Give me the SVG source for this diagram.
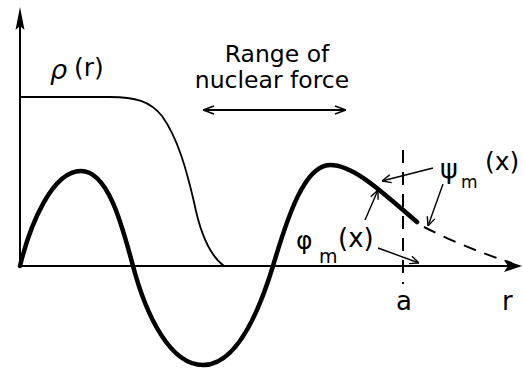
<svg xmlns="http://www.w3.org/2000/svg" width="523" height="368" viewBox="0 0 523 368">
<defs>
<style>
text{font-family:"DejaVu Sans","Liberation Sans",sans-serif;fill:#000}
.thin{fill:none;stroke:#000;stroke-width:1.8}
.axis{fill:none;stroke:#000;stroke-width:2}
.thick{fill:none;stroke:#000;stroke-width:4.5;stroke-linecap:round}
.dash{fill:none;stroke:#000;stroke-width:2;stroke-dasharray:13 9}
.ptr{fill:none;stroke:#000;stroke-width:1.4;marker-end:url(#open)}
</style>
<marker id="open" viewBox="0 0 10 10" refX="10" refY="5" markerWidth="10" markerHeight="10" markerUnits="userSpaceOnUse" orient="auto">
<path d="M1,1 L10,5 L1,9" fill="none" stroke="#000" stroke-width="1.4"/>
</marker>
<marker id="open2" viewBox="0 0 12 10" refX="12" refY="5" markerWidth="12" markerHeight="10" markerUnits="userSpaceOnUse" orient="auto-start-reverse">
<path d="M1,1 L12,5 L1,9" fill="none" stroke="#000" stroke-width="1.6"/>
</marker>
</defs>
<g id="axes">
<path class="axis" d="M20,266 L20,12"/>
<path d="M20,7 L24.5,30 L20,26 L15.5,30 Z" fill="#000"/>
<path class="axis" d="M20,266 L512,266"/>
<path d="M522,266 L504,260 L508,266 L504,272 Z" fill="#000"/>
</g>
<g id="rho-curve">
<path class="thin" d="M20,97 L110,97 C135,97 150,101 162,116 C178,138 187,172 194,202 C200,232 209,255 224,266"/>
</g>
<g id="wave">
<path class="thick" d="M20,266 C30,225 52,171 81,171 C108,171 122,225 133,266 C146,315 170,365 203,365 C236,365 258,315 273,266 C288,215 305,165 330,165 C355,165 385,195 417,222"/>
</g>
<g id="tail">
<path class="dash" d="M424,227 Q465,248 512,263"/>
</g>
<g id="boundary">
<path class="dash" d="M403,150 L403,284" stroke-dasharray="13 8"/>
</g>
<g id="range-label">
<text x="277" y="62" font-size="23.5" text-anchor="middle">Range of</text>
<text x="272" y="88" font-size="23.5" text-anchor="middle">nuclear force</text>
<path class="thin" d="M203,110 L346,110" marker-start="url(#open2)" marker-end="url(#open2)"/>
</g>
<g id="rho-label">
<text x="50" y="79" font-size="27" font-style="italic">ρ</text>
<text x="74" y="76" font-size="25">(r)</text>
</g>
<g id="psi-label">
<text x="440" y="178" font-size="27">ψ</text>
<text x="461" y="188" font-size="17">m</text>
<text x="485" y="170" font-size="25">(x)</text>
</g>
<g id="phi-label">
<text x="296" y="249" font-size="25">φ</text>
<text x="319" y="263" font-size="19">m</text>
<text x="338" y="247" font-size="26">(x)</text>
</g>
<g id="a-label"><text x="396" y="310" font-size="26">a</text></g>
<g id="r-label"><text x="502" y="310" font-size="26">r</text></g>
<g id="pointers">
<path class="ptr" d="M433,168 L382,181"/>
<path class="ptr" d="M443,184 L428,226"/>
<path class="ptr" d="M365,220 L378,190"/>
<path class="ptr" d="M378,248 L419,263"/>
</g>
</svg>
